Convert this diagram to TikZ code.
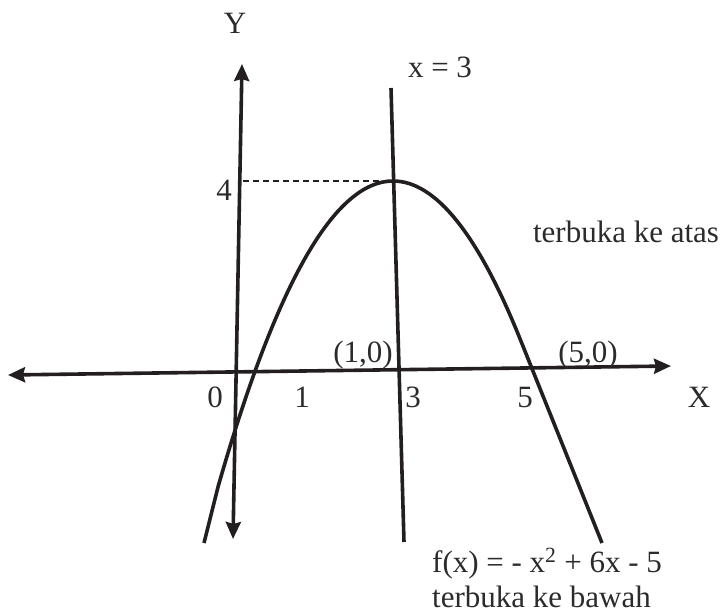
\documentclass[tikz,border=0pt]{standalone}
\usepackage{fontspec}
\setmainfont{Liberation Serif}
\usetikzlibrary{arrows.meta,calc}
\definecolor{ink}{HTML}{231F20}
\definecolor{txt}{HTML}{2B2B2B}
\begin{document}
\begin{tikzpicture}[x=1pt,y=-1pt,
  axis/.style={draw=ink,line width=3.6pt,{Stealth[length=17pt,width=15pt,inset=2pt]}-{Stealth[length=17pt,width=15pt,inset=2pt]}},
  thick line/.style={draw=ink,line width=3.6pt},
  lbl/.style={text=txt,inner sep=0pt,font=\fontsize{31}{36}\selectfont}]
\useasboundingbox (0,0) rectangle (723,615);
% coordinates
\coordinate (xl) at (8,375);
\coordinate (xr) at (671,366);
\coordinate (yb) at (233,539);
\coordinate (yt) at (242,64);
\coordinate (st) at (391,88);
\coordinate (sb) at (404,542);
\coordinate (peak) at (393,181);
\coordinate (dl) at (243,181);
\coordinate (pl) at (204,543);
\coordinate (ql) at (218,487);
\coordinate (qr) at (520.5,340);
\coordinate (pr) at (602,543);
\coordinate (cl) at (305.5,181);
\coordinate (cr) at (456.75,181);
% axes
\draw[axis] (xl) -- (xr);
\draw[axis] (yb) -- (yt);
% symmetry line
\draw[thick line] (st) -- (sb);
% dashed
\draw[ink,line width=1.3pt,dash pattern=on 6pt off 4pt] (dl) -- (peak);
% parabola
\draw[thick line,line join=round] (pl) -- (ql)
  .. controls ($(ql)!0.6667!(cl)$) and ($(peak)!0.6667!(cl)$) .. (peak)
  .. controls ($(peak)!0.6667!(cr)$) and ($(qr)!0.6667!(cr)$) .. (qr)
  -- (pr);
% labels
\node[lbl] (Y) at (235,23) {Y};
\node[lbl] (xeq) at (440,67) {x = 3};
\node[lbl] (four) at (224,190) {4};
\node[lbl] (atas) at (626,232) {terbuka ke atas};
\node[lbl] (p10) at (363,355) {(1,0)};
\node[lbl] (p50) at (588,355) {(5,0)};
\node[lbl] (n0) at (215,397) {0};
\node[lbl] (n1) at (302,397) {1};
\node[lbl] (n3) at (413,397) {3};
\node[lbl] (n5) at (525,397) {5};
\node[lbl] (X) at (699,397) {X};
\node[lbl,anchor=base west] (fx) at (432,572) {f(x) = - x\textsuperscript{2} + 6x - 5};
\node[lbl,anchor=base west] (bawah) at (432,607) {terbuka ke bawah};
\end{tikzpicture}
\end{document}
